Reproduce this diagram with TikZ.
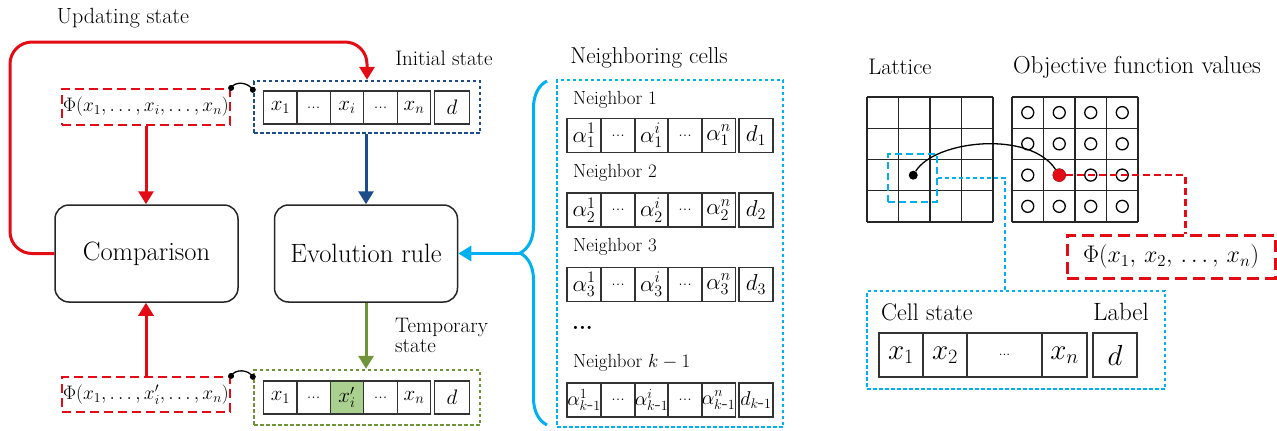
\documentclass[tikz,border=0pt]{standalone}
\usepackage{fix-cm}
\usetikzlibrary{arrows.meta,decorations.pathreplacing,calc}
\definecolor{cred}{RGB}{228,12,20}
\definecolor{cblue}{RGB}{28,76,138}
\definecolor{ccyan}{RGB}{0,176,240}
\definecolor{cgreen}{RGB}{112,148,58}
\definecolor{lgreen}{RGB}{169,208,142}
\newcommand\dts{{\fontsize{18}{18}\selectfont ...}}
\newcommand\sdts{{\fontsize{14}{14}\selectfont ...}}
\newcommand\fs[1]{\fontsize{#1}{#1}\selectfont}
\begin{document}
\begin{tikzpicture}[x=1pt,y=-1pt]
\tikzset{
 lbl/.style={inner sep=0, font=\fs{22}},
 nlbl/.style={inner sep=0, anchor=west, font=\fs{19}},
 proc/.style={draw=black!85, line width=1.5, rounded corners=14, minimum width=183, minimum height=97, inner sep=0, font=\fs{26.5}},
 cell/.style={draw=black!80, line width=1.3, inner sep=0, minimum width=33.5, minimum height=33, font=\fs{21}},
 ncell/.style={cell, minimum width=34, minimum height=34},
 bigcell/.style={cell, minimum width=44, minimum height=44, font=\fs{29}},
 phibox/.style={draw=cred, line width=2.2, dash pattern=on 9pt off 5pt, inner sep=0, font=\fs{19.5}},
 dotbox/.style={line width=2.4, dash pattern=on 3.5pt off 2.5pt, inner sep=0},
 seldash/.style={line width=2.5, dash pattern=on 7pt off 4pt},
 arr/.style={line width=3, -{Triangle[length=13pt,width=15pt]}},
 hook/.style={line width=1.3},
 gline/.style={line width=1.4, black!85},
}
\useasboundingbox (0,0) rectangle (1277,431);

% ---------- left part ----------
\node[lbl] (tupd) at (123,18) {Updating state};
\node[lbl, font=\fs{21}] (tinit) at (444,58) {Initial state};
\node[lbl, font=\fs{21}, align=left, anchor=west] (ttemp) at (395,335) {Temporary\\[-1pt]state};

\node[phibox, minimum width=168, minimum height=36] (phi1) at (146,107) {$\Phi(x_1, \ldots, x_i, \ldots, x_n)$};
\node[phibox, minimum width=168, minimum height=35] (phi2) at (146,394.5) {$\Phi(x_1, \ldots, x_i', \ldots, x_n)$};

\node[dotbox, draw=cblue, minimum width=226, minimum height=52] (init) at (367,107) {};
\node[dotbox, draw=cgreen, minimum width=226, minimum height=55] (temp) at (367,397.5) {};

\node[cell] (i1) at (280.5,107.5) {$x_1$};
\node[cell] (i2) at (313.5,107.5) {\dts};
\node[cell] (i3) at (347,107.5) {$x_i$};
\node[cell] (i4) at (380.5,107.5) {\dts};
\node[cell] (i5) at (414,107.5) {$x_n$};
\node[cell, minimum width=34.5] (i6) at (452,107.5) {$d$};

\node[cell] (t1) at (280.5,397.5) {$x_1$};
\node[cell] (t2) at (313.5,397.5) {\dts};
\node[cell, fill=lgreen] (t3) at (347,397.5) {$x_i'$};
\node[cell] (t4) at (380.5,397.5) {\dts};
\node[cell] (t5) at (414,397.5) {$x_n$};
\node[cell, minimum width=34.5] (t6) at (452,397.5) {$d$};

\node[proc] (comp) at (146.5,253.5) {Comparison};
\node[proc] (evol) at (366,253.5) {Evolution rule};

\draw[arr, cred] (phi1.south) -- (phi1.south |- comp.north);
\draw[arr, cred] (phi2.north) -- (phi2.north |- comp.south);
\draw[arr, cblue] (evol.north |- init.south) -- (evol.north);
\draw[arr, cgreen] (evol.south) -- (evol.south |- temp.north);
\coordinate (lp) at (10,42);
\draw[arr, cred, rounded corners=22] (comp.west) -| (lp) -| (init.north);

\coordinate (h1a) at (phi1.north east);
\coordinate (h1b) at ($(init.north west)+(0,10)$);
\coordinate (h2a) at (phi2.north east);
\coordinate (h2b) at ($(temp.north west)+(0,8)$);
\draw[hook] (h1a) to[out=60,in=120] (h1b);
\draw[hook] (h2a) to[out=60,in=120] (h2b);
\foreach \p in {h1a,h1b,h2a,h2b} { \fill (\p) circle[radius=3pt]; }

% ---------- neighbors ----------
\node[lbl, font=\fs{23}] (tneigh) at (649,58) {Neighboring cells};
\node[dotbox, draw=ccyan, minimum width=226, minimum height=347] (nbox) at (670,253.5) {};
\foreach \ry/\ly/\s/\sz/\lab [count=\r] in {135.5/100/1/23/1, 210/173/2/23/2, 284.5/247/3/23/3, 400/363/{k\mbox{-}1}/20/{$k-1$}} {
  \node[nlbl] (nl\r) at (573,\ly) {Neighbor \lab};
  \node[ncell, font=\fs{\sz}] (n\r-a) at (584,\ry) {$\alpha^{1}_{\s}$};
  \node[ncell] (n\r-b) at (618,\ry) {\dts};
  \node[ncell, font=\fs{\sz}] (n\r-c) at (651.5,\ry) {$\alpha^{i}_{\s}$};
  \node[ncell] (n\r-e) at (685,\ry) {\dts};
  \node[ncell, font=\fs{\sz}] (n\r-f) at (718.5,\ry) {$\alpha^{n}_{\s}$};
  \node[ncell, font=\fs{\sz}] (n\r-d) at (756,\ry) {$d_{\s}$};
}
\node[inner sep=0, anchor=west, font=\fs{22}\bfseries] (ndots) at (572,328) {...};

\draw[ccyan, line width=3, decorate, decoration={brace, amplitude=27pt}] (547,425) -- (547,81);
\coordinate (btip) at (520,253.5);
\draw[arr, ccyan] (btip) -- (evol.east);

% ---------- right part ----------
\node[lbl, font=\fs{22.5}] (tlat) at (900,67) {Lattice};
\node[lbl, font=\fs{24.5}] (tobj) at (1137,67) {Objective function values};

\foreach \i in {0,...,4} {
  \draw[gline] (867+31.5*\i,97) -- (867+31.5*\i,222);
  \draw[gline] (867,97+31.25*\i) -- (993,97+31.25*\i);
  \draw[gline] (1012+31.5*\i,97) -- (1012+31.5*\i,222);
  \draw[gline] (1012,97+31.25*\i) -- (1138,97+31.25*\i);
}
\foreach \i in {0,...,3} {
  \foreach \j in {0,...,3} {
    \draw[line width=1.3] (1027.75+31.5*\i,112.6+31.25*\j) circle[radius=6pt];
  }
}
\node[circle, fill=black, minimum size=9, inner sep=0] (bdot) at (913.25,175.2) {};
\node[circle, fill=cred, minimum size=13, inner sep=0] (rdot) at (1059.25,175.2) {};
\draw[line width=1.3] (bdot) .. controls (935,140) and (1030,130) .. (rdot);

\node[draw=ccyan, seldash, minimum width=49, minimum height=48, inner sep=0] (sel) at (912.5,178) {};

\node[phibox, line width=3, dash pattern=on 12pt off 6pt, minimum width=208, minimum height=43, font=\fs{24}] (phi3) at (1171,256.5) {$\Phi(x_1,\, x_2,\, \ldots,\, x_n)$};
\draw[cred, seldash] (rdot.east) -| ($(phi3.north west)+(120,0)$);

\node[dotbox, draw=ccyan, minimum width=298, minimum height=98] (csbox) at (1016,340) {};
\coordinate (cturn) at (1005,291);
\draw[ccyan, line width=2.5, dash pattern=on 4pt off 3pt] (sel.east) -| (cturn);

\node[lbl, font=\fs{24}, anchor=west] (tcell) at (881,312) {Cell state};
\node[lbl, font=\fs{25}] (tlabel) at (1121,312) {Label};
\node[bigcell] (c1) at (901,355) {$x_1$};
\node[bigcell] (c2) at (945,355) {$x_2$};
\node[bigcell, minimum width=75] (c3) at (1004.5,355) {\sdts};
\node[bigcell, minimum width=45] (c4) at (1064.5,355) {$x_n$};
\node[bigcell] (c5) at (1115,355) {$d$};
\end{tikzpicture}
\end{document}
